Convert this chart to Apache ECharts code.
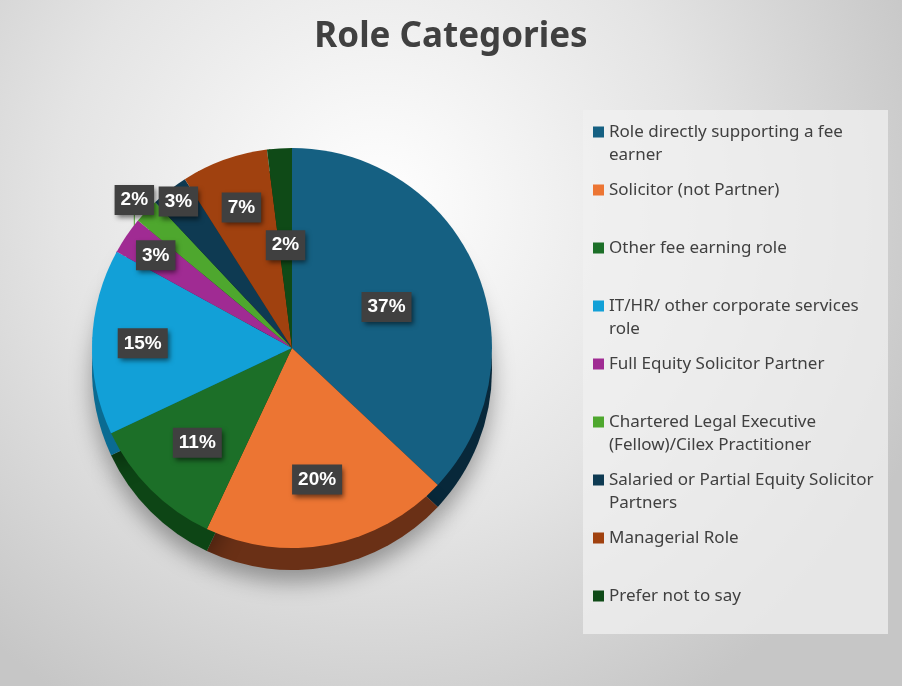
<!DOCTYPE html>
<html>
<head>
<meta charset="utf-8">
<style>
  html, body { margin: 0; padding: 0; }
  #chart { width: 902px; height: 686px; }
</style>
<script src="https://cdn.jsdelivr.net/npm/echarts@6.0.0/dist/echarts.min.js"></script>
</head>
<body>
<div id="chart"></div>
<script>
// ---- data ----
const categories = [
  'Role directly supporting a fee earner',
  'Solicitor (not Partner)',
  'Other fee earning role',
  'IT/HR/ other corporate services role',
  'Full Equity Solicitor Partner',
  'Chartered Legal Executive (Fellow)/Cilex Practitioner',
  'Salaried or Partial Equity Solicitor Partners',
  'Managerial Role',
  'Prefer not to say'
];
const shares = [37, 20, 11, 15, 3, 2, 3, 7, 2];

// ---- style ----
const topColors  = ['#156082', '#EC7533', '#1C6F28', '#12A0D7', '#A02B93', '#4EA72E', '#0E3A52', '#A0410F', '#0F4A17'];
const sideColors = ['#08283A', '#6A3016', '#0D4515', '#0A6B92', '#6A1C62', '#33731E', '#071E2B', '#66290A', '#082B0D'];
const labelReach = [1.0, 1.3, 1.3, 1.45, 1.6, 2.1, 1.8, 1.45, 1.0];
const CX = 292, CY = 348, R = 200, DEPTH = 22;
const LEG_LEFT = 593, LEG_FIRST = 132, LEG_STEP = 58, LEG_LH = 23, LEG_MAXW = 275, ICON = 11;
const LEG_FONT = 'Noto Sans';
const LEG_SIZE = 17;

function wrapText(text) {
  const ctx = document.createElement('canvas').getContext('2d');
  ctx.font = LEG_SIZE + 'px "' + LEG_FONT + '"';
  const words = text.split(' ');
  const lines = [];
  let cur = '';
  words.forEach(w => {
    const t = cur ? cur + ' ' + w : w;
    if (cur && ctx.measureText(t).width > LEG_MAXW) { lines.push(cur); cur = w; }
    else cur = t;
  });
  if (cur) lines.push(cur);
  return lines;
}

const pieData = categories.map((name, i) => ({ name: name, value: shares[i], itemStyle: { color: topColors[i] } }));
const sideData = categories.map((name, i) => ({ name: name, value: shares[i], itemStyle: { color: sideColors[i] } }));

const legends = categories.map((name, i) => {
  const lines = wrapText(name);
  const n = lines.length;
  const H = (n - 1) * LEG_LH + ICON;
  // square marker at the top of a taller (invisible) icon box so it lines up with the first text line
  const iconPath = 'path://M0,0L' + ICON + ',0L' + ICON + ',' + ICON + 'L0,' + ICON + 'ZM0,' + H + 'L' + ICON + ',' + H;
  return {
    data: [name],
    orient: 'vertical',
    left: LEG_LEFT,
    top: LEG_FIRST + LEG_STEP * i - LEG_LH / 2,
    padding: 0,
    icon: iconPath,
    itemWidth: ICON,
    itemHeight: H,
    itemStyle: { borderWidth: 0 },
    selectedMode: false,
    formatter: () => lines.join('\n'),
    textStyle: {
      fontFamily: LEG_FONT,
      fontSize: LEG_SIZE,
      lineHeight: LEG_LH,
      color: '#404040'
    }
  };
});

const chart = echarts.init(document.getElementById('chart'));
chart.setOption({
  animation: false,
  backgroundColor: {
    type: 'radial', x: 0.42, y: 0.3, r: 0.85,
    colorStops: [
      { offset: 0, color: '#ffffff' },
      { offset: 0.55, color: '#e4e4e4' },
      { offset: 1, color: '#c6c6c6' }
    ]
  },
  title: {
    text: 'Role Categories',
    left: 'center',
    top: 15,
    textStyle: { fontFamily: 'Noto Sans', fontWeight: 'bold', fontSize: 35, color: '#404040' }
  },
  graphic: [{
    type: 'rect',
    z: -1,
    shape: { x: 583, y: 110, width: 305, height: 524 },
    style: { fill: 'rgba(240,240,240,0.75)' },
    silent: true
  }],
  legend: legends,
  series: [
    {
      name: 'Role Categories',
      type: 'pie',
      z: 3,
      center: [CX, CY],
      radius: [0, R],
      startAngle: 90,
      clockwise: true,
      data: pieData,
      itemStyle: { borderWidth: 0 },
      label: {
        show: true,
        position: 'inside',
        formatter: '{c}%',
        fontFamily: 'Liberation Sans',
        fontWeight: 'bold',
        fontSize: 19,
        color: '#ffffff',
        backgroundColor: '#404040',
        padding: [6, 6, 5, 6],
        shadowBlur: 5,
        shadowColor: 'rgba(0,0,0,0.55)',
        shadowOffsetX: 2,
        shadowOffsetY: 3
      },
      labelLayout: function (p) {
        const r = p.labelRect;
        const lx = r.x + r.width / 2, ly = r.y + r.height / 2;
        const k = labelReach[p.dataIndex];
        return { x: CX + (lx - CX) * k, y: CY + (ly - CY) * k, align: 'center', verticalAlign: 'middle' };
      },
      emphasis: { disabled: true }
    },
    {
      name: 'side',
      type: 'pie',
      z: 2,
      silent: true,
      center: [CX, CY + DEPTH],
      radius: [0, R],
      startAngle: 90,
      clockwise: true,
      data: sideData,
      label: { show: false },
      labelLine: { show: false },
      itemStyle: {
        borderWidth: 0,
        shadowBlur: 22,
        shadowColor: 'rgba(0,0,0,0.35)',
        shadowOffsetY: 12
      },
      tooltip: { show: false },
      emphasis: { disabled: true }
    }
  ]
});
</script>
</body>
</html>
